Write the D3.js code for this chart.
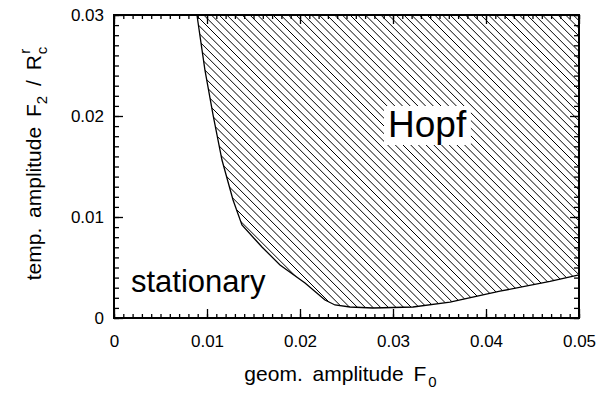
<!DOCTYPE html>
<html><head><meta charset="utf-8">
<script src="https://cdn.jsdelivr.net/npm/d3@7"></script>
<style>
body{margin:0;background:#fff;}
text{font-family:"Liberation Sans",Arial,Helvetica,sans-serif;fill:#000;}
</style></head>
<body><svg id="c" width="613" height="397"></svg>
<script>
// boundary of the Hopf region (F0, F2/Rc^r)
const boundaryF0 = [0.00892,0.00978,0.01065,0.01161,0.0128,0.01376,0.01591,0.01785,0.02054,0.02269,0.02376,0.02538,0.02785,0.03215,0.03613,0.0415,0.04688,0.05];
const boundaryF2 = [0.0300,0.02455,0.0201,0.01564,0.01168,0.00921,0.00703,0.00525,0.00347,0.00178,0.00129,0.00109,0.00099,0.00109,0.00158,0.00265,0.00362,0.00426];
const xTicks = [0,0.01,0.02,0.03,0.04,0.05];
const xTickLabels = ["0","0.01","0.02","0.03","0.04","0.05"];
const yTicks = [0,0.01,0.02,0.03];
const yTickLabels = ["0","0.01","0.02","0.03"];
const xDomain = [0,0.05], yDomain=[0,0.03];

const L=114,R=579,T=15,B=318;
const svg=d3.select("#c");
const x=d3.scaleLinear().domain(xDomain).range([L,R]);
const y=d3.scaleLinear().domain(yDomain).range([B,T]);

// region polygon
const pts = boundaryF0.map((f,i)=>[f,boundaryF2[i]]);
const region = pts.concat([[xDomain[1],yDomain[1]],[pts[0][0],yDomain[1]]]);
const line=d3.line().x(d=>x(d[0])).y(d=>y(d[1]));
svg.append("clipPath").attr("id","rc").append("path").attr("d",line(region)+"Z");

const hatch=svg.append("g").attr("clip-path","url(#rc)");
const H=B-T, step=7.7;
for(let c=L-H;c<R+5;c+=step){
  hatch.append("line").attr("x1",c).attr("y1",T).attr("x2",c+H).attr("y2",B)
   .attr("stroke","#000").attr("stroke-width",1);
}
svg.append("path").attr("d",line(pts)).attr("fill","none").attr("stroke","#000").attr("stroke-width",1.3);
svg.append("path").attr("d",line([[pts[0][0],yDomain[1]],[xDomain[1],yDomain[1]],[xDomain[1],pts[pts.length-1][1]]])).attr("fill","none").attr("stroke","#000").attr("stroke-width",1.2);

// Hopf label with white box
const hg=svg.append("g");
const ht=hg.append("text").attr("x",388).attr("y",137).attr("font-size",37).text("Hopf");
const bb=ht.node().getBBox();
hg.insert("rect","text").attr("x",bb.x-4).attr("y",bb.y+2).attr("width",bb.width+8).attr("height",bb.height-2).attr("fill","#fff");

svg.append("text").attr("x",131).attr("y",292).attr("font-size",31).text("stationary");

// axes
const fmtX=(d,i)=>xTickLabels[i], fmtY=(d,i)=>yTickLabels[i];
const minorX=d3.range(0,51).map(i=>i/1000), minorY=d3.range(0,31).map(i=>i/1000);
function ax(gen,tr,vals,size,lab){
  const g=svg.append("g").attr("transform",tr).call(gen.tickValues(vals).tickSizeInner(size).tickSizeOuter(0).tickPadding(lab?14:0).tickFormat(lab||(()=> "")));
  g.select(".domain").remove();
  g.selectAll("line").attr("stroke","#000").attr("stroke-width",1.3);
  g.selectAll("text").attr("font-size",17).attr("font-family","Liberation Sans,Arial,sans-serif").attr("fill","#000");
  if(!lab) g.selectAll("text").remove();
  return g;
}
ax(d3.axisBottom(x),`translate(0,${B})`,minorX,-4,null);
ax(d3.axisBottom(x),`translate(0,${B})`,xTicks,-9,fmtX).selectAll("text").attr("dy","0.9em");
ax(d3.axisTop(x),`translate(0,${T})`,minorX,-4,null);
ax(d3.axisTop(x),`translate(0,${T})`,xTicks,-9,null);
ax(d3.axisLeft(y),`translate(${L},0)`,minorY,-5,null);
const gl=ax(d3.axisLeft(y),`translate(${L},0)`,yTicks,-9,fmtY);
gl.selectAll("text").attr("x",-10);
ax(d3.axisRight(y),`translate(${R},0)`,minorY,-5,null);
ax(d3.axisRight(y),`translate(${R},0)`,yTicks,-9,null);

svg.append("rect").attr("x",L).attr("y",T).attr("width",R-L).attr("height",B-T).attr("fill","none").attr("stroke","#000").attr("stroke-width",2);

// axis titles
const xt=svg.append("text").attr("x",(L+R)/2-6).attr("y",381).attr("text-anchor","middle").attr("font-size",21).attr("word-spacing",4);
xt.append("tspan").text("geom. amplitude F");
xt.append("tspan").attr("font-size",15).attr("dy",6).attr("dx",2).text("0");

const yt=svg.append("text").attr("transform",`translate(41,${(T+B)/2-3}) rotate(-90)`).attr("text-anchor","middle").attr("font-size",21).attr("word-spacing",4);
yt.append("tspan").text("temp. amplitude F");
yt.append("tspan").attr("font-size",15).attr("dy",6).text("2");
yt.append("tspan").attr("dy",-6).text(" / R");
yt.append("tspan").attr("font-size",15).attr("dy",6).attr("dx",1).text("c");
yt.append("tspan").attr("font-size",15).attr("dy",-17).attr("dx",-7).text("r");
</script></body></html>
